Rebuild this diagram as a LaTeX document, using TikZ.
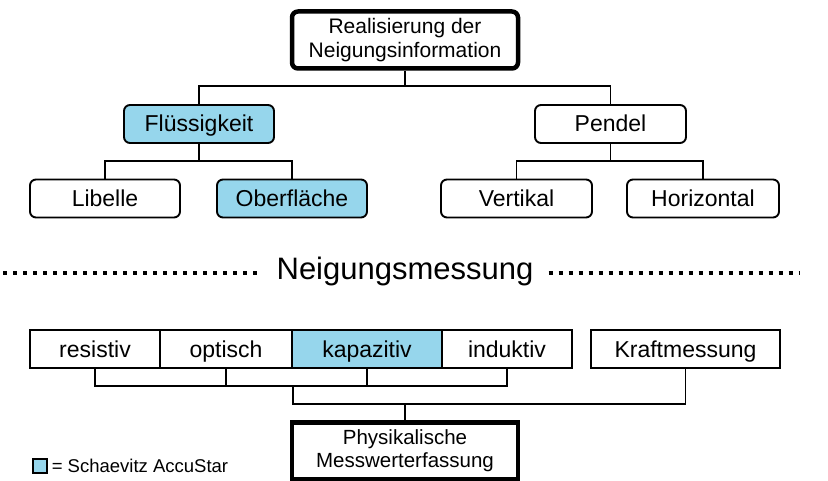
\documentclass[tikz,border=0pt]{standalone}
\usepackage{fontspec}
\setmainfont{Liberation Sans}
\usepackage{xcolor}
\usetikzlibrary{positioning, calc}
\definecolor{accublue}{RGB}{150,214,236}

\begin{document}
\begin{tikzpicture}[x=1pt, y=-1pt,
  frame/.style={rectangle, rounded corners=6pt, draw=black, line width=1.9pt, minimum height=38pt, inner sep=0pt, align=center},
  box/.style={frame, text height=18pt, text depth=2pt, font=\fontsize{23}{26}\selectfont},
  mainbox/.style={frame, line width=4.5pt, minimum width=226pt, minimum height=57pt, font=\fontsize{21}{23.5}\selectfont},
  cell/.style={box, rounded corners=0pt},
  star/.style={fill=accublue},
  link/.style={draw=black, line width=1.9pt},
  dotline/.style={draw=black, line width=4pt, dash pattern=on 4pt off 6pt}
]
\useasboundingbox (0,0) rectangle (828,481);

\node[mainbox] (realis) at (405,40) {Realisierung der\\Neigungsinformation};
\node[box, star, minimum width=150pt] (fluss) at (199,124) {Flüssigkeit};
\node[box, minimum width=151pt] (pendel) at (610.5,124) {Pendel};
\node[box, minimum width=150pt] (libelle) at (105,198.5) {Libelle};
\node[box, star, minimum width=150pt] (ober) at (292,198.5) {Oberfläche};
\node[box, minimum width=151pt] (vertikal) at (516.5,198.5) {Vertikal};
\node[box, minimum width=152pt] (horizontal) at (703,198.5) {Horizontal};

\node[inner xsep=15pt, font=\fontsize{31}{34}\selectfont] (titel) at (405,271) {Neigungsmessung};
\coordinate (dl) at (3,273);
\coordinate (dr) at (800,273);
\draw[dotline] (dl) -- (dl -| titel.west);
\draw[dotline] (dr -| titel.east) -- (dr);

\node[cell, minimum width=130pt] (resistiv) at (95,349) {resistiv};
\node[cell, minimum width=132pt] (optisch) at (226,349) {optisch};
\node[cell, star, minimum width=150pt] (kapazitiv) at (367,349) {kapazitiv};
\node[cell, minimum width=130pt] (induktiv) at (507,349) {induktiv};
\node[cell, minimum width=189pt] (kraft) at (685.5,349) {Kraftmessung};
\node[mainbox, rounded corners=0pt, font=\fontsize{20.5}{23}\selectfont] (phys) at (405,451) {Physikalische\\Messwerterfassung};

\node[rectangle, draw=black, line width=1.2pt, star, minimum size=14pt, inner sep=0pt] (legbox) at (40,466) {};
\node[right=4pt of legbox, inner sep=0pt, font=\fontsize{18.5}{20}\selectfont] (legtext) {= Schaevitz AccuStar};

\coordinate (j1) at (405,86);
\coordinate (j2) at (199,161);
\coordinate (j3) at (610.5,161);
\coordinate (jb) at (293,386);
\coordinate (jc) at (293,404);

\draw[link] (realis.south) -- (j1);
\draw[link] (fluss.north) |- (j1) -| (pendel.north);
\draw[link] (fluss.south) -- (j2);
\draw[link] (libelle.north) |- (j2) -| (ober.north);
\draw[link] (pendel.south) -- (j3);
\draw[link] (vertikal.north) |- (j3) -| (horizontal.north);

\draw[link] (resistiv.south) |- (jb) -| (induktiv.south);
\draw[link] (optisch.south) -- (optisch.south |- jb);
\draw[link] (kapazitiv.south) -- (kapazitiv.south |- jb);
\draw[link] (jb) -- (jc) -| (kraft.south);
\draw[link] (phys.north) -- (phys.north |- jc);
\end{tikzpicture}
\end{document}
